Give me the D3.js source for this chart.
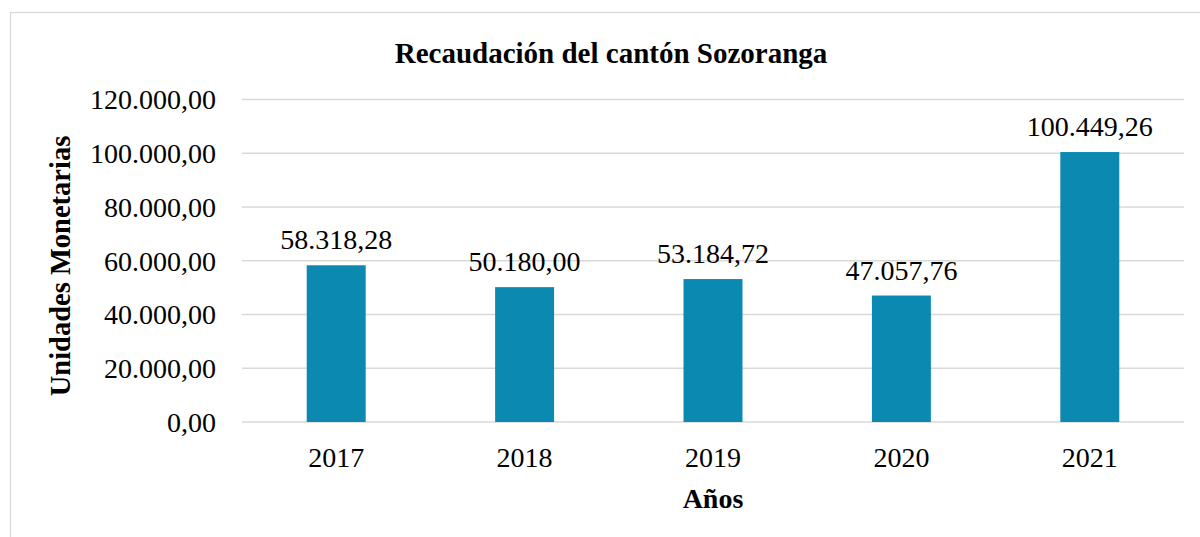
<!DOCTYPE html>
<html>
<head>
<meta charset="utf-8">
<script src="https://cdn.jsdelivr.net/npm/d3@7"></script>
<style>
  body { margin: 0; background: #fff; }
  svg text { font-family: "Liberation Serif", "Times New Roman", Times, serif; fill: #000; }
</style>
</head>
<body>
<div id="chart"></div>
<script>
// data
const years = ["2017", "2018", "2019", "2020", "2021"];
const recaudacion = [58318.28, 50180.00, 53184.72, 47057.76, 100449.26];
const yTicks = [0, 20000, 40000, 60000, 80000, 100000, 120000];

const w = 1200;
const h = 537;

// spanish number format: 120.000,00
const es = d3.formatLocale({ decimal: ",", thousands: ".", grouping: [3], currency: ["$", ""] });
const fmt = es.format(",.2f");

const svg = d3.select("#chart")
    .append("svg")
    .attr("width", w)
    .attr("height", h);

// chart frame, runs off the right and bottom
svg.append("rect")
    .attr("x", 10.5)
    .attr("y", 12.5)
    .attr("width", 1250)
    .attr("height", 600)
    .attr("fill", "none")
    .attr("stroke", "#d9d9d9")
    .attr("stroke-width", 1.3);

const xScale = d3.scaleBand()
    .domain(years)
    .range([242, 1184])
    .padding(0);

const yScale = d3.scaleLinear()
    .domain([0, 120000])
    .range([422, 99.5]);

const barW = xScale.bandwidth() * 0.313;

// gridlines
svg.append("g")
    .selectAll("line")
    .data(yTicks)
    .enter()
    .append("line")
    .attr("x1", 242)
    .attr("x2", 1184)
    .attr("y1", d => yScale(d))
    .attr("y2", d => yScale(d))
    .attr("stroke", "#d9d9d9")
    .attr("stroke-width", 1.3);

// y axis labels
const yAxis = d3.axisLeft(yScale)
    .tickValues(yTicks)
    .tickFormat(fmt)
    .tickSize(0)
    .tickPadding(26);

svg.append("g")
    .attr("transform", "translate(242,0)")
    .call(yAxis)
    .call(g => g.select(".domain").remove())
    .selectAll("text")
    .attr("font-family", null)
    .attr("font-size", 28)
    .attr("dy", "0.33em");

// x axis labels
const xAxis = d3.axisBottom(xScale).tickSize(0).tickPadding(25);

svg.append("g")
    .attr("transform", "translate(0,422)")
    .call(xAxis)
    .call(g => g.select(".domain").remove())
    .selectAll("text")
    .attr("font-size", 28);

// bars
svg.selectAll(".bar")
    .data(recaudacion)
    .enter()
    .append("rect")
    .attr("class", "bar")
    .attr("x", (d, i) => xScale(years[i]) + xScale.bandwidth() / 2 - barW / 2)
    .attr("y", d => yScale(d))
    .attr("width", barW)
    .attr("height", d => yScale(0) - yScale(d))
    .attr("fill", "#0c89b1");

// value labels
svg.selectAll(".label")
    .data(recaudacion)
    .enter()
    .append("text")
    .attr("class", "label")
    .attr("x", (d, i) => xScale(years[i]) + xScale.bandwidth() / 2)
    .attr("y", d => yScale(d) - 16)
    .attr("text-anchor", "middle")
    .attr("font-size", 28)
    .text(d => fmt(d));

// titles
svg.append("text")
    .text("Recaudación del cantón Sozoranga")
    .attr("x", 611)
    .attr("y", 63)
    .attr("text-anchor", "middle")
    .attr("font-size", 29)
    .attr("font-weight", "bold");

svg.append("text")
    .text("Años")
    .attr("x", 713)
    .attr("y", 508)
    .attr("text-anchor", "middle")
    .attr("font-size", 28)
    .attr("font-weight", "bold");

svg.append("text")
    .text("Unidades Monetarias")
    .attr("transform", "rotate(-90)")
    .attr("x", -266)
    .attr("y", 70)
    .attr("text-anchor", "middle")
    .attr("font-size", 28.5)
    .attr("font-weight", "bold");
</script>
</body>
</html>
